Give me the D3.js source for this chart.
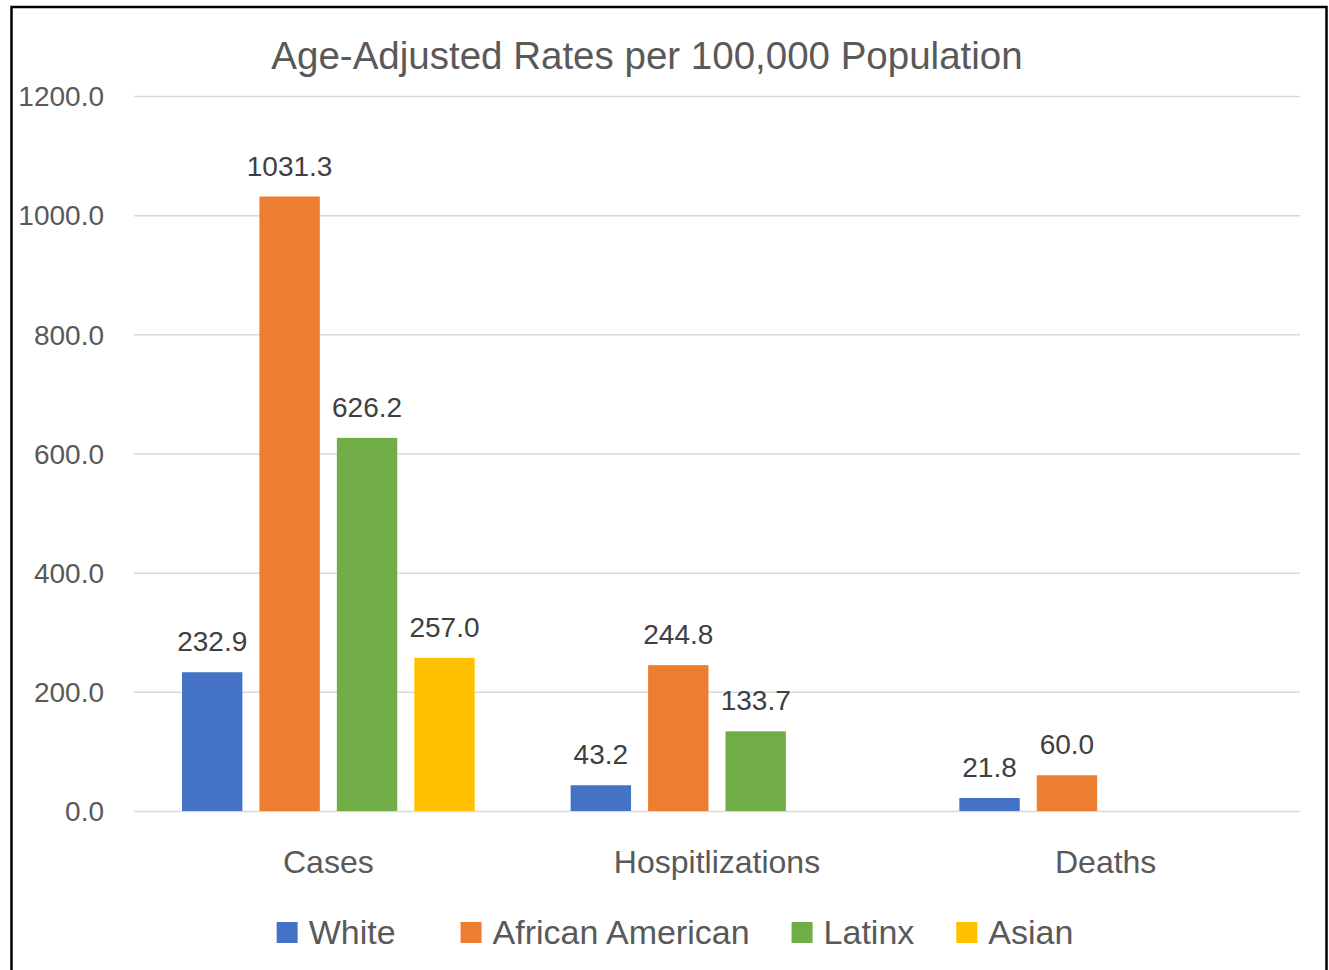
<!DOCTYPE html>
<html>
<head>
<meta charset="utf-8">
<script src="https://cdn.jsdelivr.net/npm/d3@7"></script>
<style>
  html, body { margin: 0; padding: 0; background: #fff; }
  svg { display: block; font-family: "Liberation Sans", Arial, sans-serif; }
</style>
</head>
<body>
<div id="chart"><svg></svg></div>
<script>
const categories = ["Cases", "Hospitlizations", "Deaths"];
const series = ["White", "African American", "Latinx", "Asian"];
const colors = ["#4472C4", "#ED7D31", "#70AD47", "#FFC000"];
// one array per series, values in category order (null = no bar)
const white = [232.9, 43.2, 21.8];
const africanAmerican = [1031.3, 244.8, 60.0];
const latinx = [626.2, 133.7, null];
const asian = [257.0, null, null];
const yTicks = [0, 200, 400, 600, 800, 1000, 1200];
const title = "Age-Adjusted Rates per 100,000 Population";

const values = [white, africanAmerican, latinx, asian];

const W = 1329, H = 970;
const plot = { left: 134, right: 1300, top: 96, bottom: 811 };

const svg = d3.select("#chart svg").attr("width", W).attr("height", H);

// outer frame (bottom edge runs off the picture)
svg.append("rect")
  .attr("x", 11.5).attr("y", 7)
  .attr("width", 1315).attr("height", 990)
  .attr("fill", "#fff")
  .attr("stroke", "#000")
  .attr("stroke-width", 2.5);

const x0 = d3.scaleBand().domain(categories).range([plot.left, plot.right]).padding(0);
const x1 = d3.scaleBand().domain(series).range([0, x0.bandwidth()])
  .paddingInner(0.22).paddingOuter(0.62);
const y = d3.scaleLinear().domain([0, 1200]).range([plot.bottom, plot.top]);
const color = d3.scaleOrdinal().domain(series).range(colors);

// gridlines + y labels
const yAxis = svg.append("g")
  .attr("transform", `translate(${plot.left},0)`)
  .call(d3.axisLeft(y).tickValues(yTicks)
    .tickSize(-(plot.right - plot.left))
    .tickPadding(30)
    .tickFormat(d3.format(".1f")));
yAxis.select(".domain").remove();
yAxis.selectAll(".tick line").attr("stroke", "#d9d9d9").attr("stroke-width", 1.5);
yAxis.selectAll(".tick text")
  .attr("fill", "#595959")
  .style("font-size", "28px")
  .attr("dy", "0.35em");

// title
svg.append("text")
  .attr("x", 647).attr("y", 69)
  .attr("text-anchor", "middle")
  .attr("fill", "#595959")
  .style("font-size", "38.5px")
  .text(title);

// bars
const rows = [];
categories.forEach((c, ci) => {
  series.forEach((s, si) => {
    const v = values[si][ci];
    if (v != null) rows.push({ category: c, series: s, value: v });
  });
});

const bars = svg.append("g").selectAll("g")
  .data(rows)
  .join("g")
  .attr("transform", (d) => `translate(${x0(d.category) + x1(d.series)},0)`);

bars.append("rect")
  .attr("x", 0)
  .attr("y", (d) => y(d.value))
  .attr("width", x1.bandwidth())
  .attr("height", (d) => y(0) - y(d.value))
  .attr("fill", (d) => color(d.series));

bars.append("text")
  .attr("x", x1.bandwidth() / 2)
  .attr("y", (d) => y(d.value) - 21)
  .attr("text-anchor", "middle")
  .attr("fill", "#404040")
  .style("font-size", "28px")
  .text((d) => d.value.toFixed(1));

// category labels
svg.append("g").selectAll("text")
  .data(categories)
  .join("text")
  .attr("x", (d) => x0(d) + x0.bandwidth() / 2)
  .attr("y", 873)
  .attr("text-anchor", "middle")
  .attr("fill", "#595959")
  .style("font-size", "32px")
  .text((d) => d);

// legend
const legend = svg.append("g");
const items = legend.selectAll("g")
  .data(series)
  .join("g");
items.append("rect")
  .attr("x", 0).attr("y", 922)
  .attr("width", 21).attr("height", 21)
  .attr("fill", (d) => color(d));
items.append("text")
  .attr("x", 32).attr("y", 944)
  .attr("fill", "#595959")
  .style("font-size", "34px")
  .text((d) => d);

let cursor = 0;
items.each(function (d, i) {
  const len = d3.select(this).select("text").node().getComputedTextLength();
  d3.select(this).attr("transform", `translate(${cursor},0)`);
  cursor += 32 + len + (i === 0 ? 65 : 42);
});
const total = cursor - 42;
legend.attr("transform", `translate(${675 - total / 2},0)`);
</script>
</body>
</html>
